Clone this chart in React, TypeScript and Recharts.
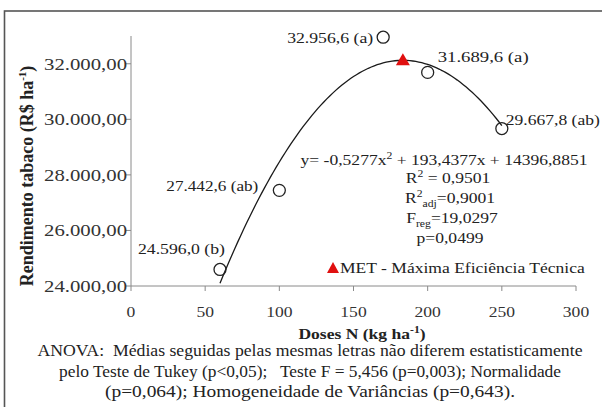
import React from "react";
import { ComposedChart, XAxis, YAxis, Line, Scatter } from "recharts";

// observed means per N dose
const doses = [60, 100, 170, 200, 250];
const rendimento = [24596.0, 27442.6, 32956.6, 31689.6, 29667.8];
const tukey = ["b", "ab", "a", "a", "ab"];

const xTicks = [0, 50, 100, 150, 200, 250, 300];
const yTicks = [24000, 26000, 28000, 30000, 32000];

// quadratic fit y = a2*x^2 + a1*x + a0
const a2 = -0.5277;
const a1 = 193.4377;
const a0 = 14396.8851;
const fitRange = [60, 250];

const SERIF = "'Liberation Serif', 'Times New Roman', serif";
const SX = 1.17;

const fmt = (v: number, dec: number) => {
  const [int, frac] = v.toFixed(dec).split(".");
  const grouped = int.replace(/\B(?=(\d{3})+(?!\d))/g, ".");
  return frac ? `${grouped},${frac}` : grouped;
};

const fitY = (x: number) => a2 * x * x + a1 * x + a0;

const curve: { x: number; y: number }[] = [];
for (let x = fitRange[0]; x <= fitRange[1]; x += 2) curve.push({ x, y: fitY(x) });

const metX = -a1 / (2 * a2);
const met = [{ x: metX, y: fitY(metX) }];

const points = doses.map((x, i) => ({
  x,
  y: rendimento[i],
  i,
  label: `${fmt(rendimento[i], 1)} (${tukey[i]})`,
}));

// where each value label sits relative to its marker
const labelPos = [
  { dx: 5, dy: -20, anchor: "end", w: 87 },
  { dx: -21, dy: -4, anchor: "end", w: 92 },
  { dx: -10, dy: 1, anchor: "end", w: 86 },
  { dx: 10, dy: -15, anchor: "start", w: 91 },
  { dx: 4, dy: -9, anchor: "start", w: 94 },
];

const YTick = (props: any) => {
  const { x, y, payload } = props;
  return (
    <text
      x={x + 3}
      y={y + 6}
      textAnchor="end"
      fontFamily={SERIF}
      fontSize={17}
      fill="#333"
      textLength={83}
      lengthAdjust="spacingAndGlyphs"
    >
      {fmt(payload.value, 2)}
    </text>
  );
};

const XTick = (props: any) => {
  const { x, y, payload } = props;
  return (
    <text
      transform={`translate(${x},${y + 24}) scale(${SX},1)`}
      textAnchor="middle"
      fontFamily={SERIF}
      fontSize={15}
      fill="#333"
    >
      {payload.value}
    </text>
  );
};

const PointShape = (props: any) => {
  const { cx, cy, payload } = props;
  const p = labelPos[payload.i];
  return (
    <g>
      <circle cx={cx} cy={cy} r={6} fill="none" stroke="#222" strokeWidth={1.3} />
      <text
        x={cx + p.dx}
        y={cy + p.dy + 5}
        textAnchor={p.anchor}
        fontFamily={SERIF}
        fontSize={15}
        fill="#222"
        textLength={p.w}
        lengthAdjust="spacingAndGlyphs"
      >
        {payload.label}
      </text>
    </g>
  );
};

const MetShape = (props: any) => {
  const { cx, cy } = props;
  return <polygon points={`${cx},${cy - 7} ${cx + 7},${cy + 5} ${cx - 7},${cy + 5}`} fill="#e01010" />;
};

const Stretch = ({ x, y, anchor = "middle", size = 15, bold = false, children }: any) => (
  <text
    transform={`translate(${x},${y}) scale(${SX},1)`}
    textAnchor={anchor}
    fontFamily={SERIF}
    fontSize={size}
    fontWeight={bold ? "bold" : "normal"}
    fill="#222"
    style={{ whiteSpace: "pre" }}
  >
    {children}
  </text>
);

const Note = ({ y, w, children }: any) => (
  <text
    x={310}
    y={y}
    textAnchor="middle"
    fontFamily={SERIF}
    fontSize={16}
    fill="#222"
    textLength={w}
    lengthAdjust="spacingAndGlyphs"
    style={{ whiteSpace: "pre" }}
  >
    {children}
  </text>
);

export default function App() {
  return (
    <div style={{ position: "relative", width: 602, height: 407, background: "#fff", overflow: "hidden" }}>
      <style>{`body{margin:0}`}</style>
      <ComposedChart
        width={602}
        height={407}
        data={curve}
        margin={{ top: 36, right: 26, bottom: 90, left: 0 }}
      >
        <XAxis
          dataKey="x"
          type="number"
          domain={[0, 300]}
          ticks={xTicks}
          interval={0}
          height={31}
          stroke="#8a8a8a"
          tickSize={5}
          tick={<XTick />}
        />
        <YAxis
          type="number"
          domain={[24000, 33000]}
          ticks={yTicks}
          interval={0}
          width={131}
          stroke="#8a8a8a"
          tickSize={5}
          tick={<YTick />}
        />
        <Line
          dataKey="y"
          type="linear"
          stroke="#1a1a1a"
          strokeWidth={1.3}
          dot={false}
          activeDot={false}
          isAnimationActive={false}
        />
        <Scatter data={points} dataKey="y" shape={<PointShape />} isAnimationActive={false} />
        <Scatter data={met} dataKey="y" shape={<MetShape />} isAnimationActive={false} />
      </ComposedChart>

      <svg width={602} height={407} style={{ position: "absolute", left: 0, top: 0, pointerEvents: "none" }}>
        <rect x={4.5} y={11} width={600} height={410} fill="none" stroke="#555" strokeWidth={1.6} />

        <text
          transform="translate(33,176) rotate(-90)"
          textAnchor="middle"
          fontFamily={SERIF}
          fontSize={18}
          fontWeight="bold"
          fill="#222"
        >
          Rendimento tabaco (R$ ha
          <tspan dy={-7} fontSize={11}>-1</tspan>
          <tspan dy={7}>)</tspan>
        </text>

        <Stretch x={362} y={339} bold>
          Doses N (kg ha<tspan dy={-6} fontSize={10}>-1</tspan>
          <tspan dy={6}>)</tspan>
        </Stretch>

        <Stretch x={444} y={165}>
          y= -0,5277x<tspan dy={-6} fontSize={10}>2</tspan>
          <tspan dy={6}> + 193,4377x + 14396,8851</tspan>
        </Stretch>
        <Stretch x={448} y={183}>
          R<tspan dy={-6} fontSize={10}>2</tspan>
          <tspan dy={6}> = 0,9501</tspan>
        </Stretch>
        <Stretch x={450} y={203}>
          R<tspan dy={-6} fontSize={10}>2</tspan>
          <tspan dy={10} fontSize={10}>adj</tspan>
          <tspan dy={-4}>=0,9001</tspan>
        </Stretch>
        <Stretch x={452} y={223}>
          F<tspan dy={4} fontSize={10}>reg</tspan>
          <tspan dy={-4}>=19,0297</tspan>
        </Stretch>
        <Stretch x={450} y={243}>p=0,0499</Stretch>

        <polygon points="333,262 339,273 327,273" fill="#e01010" />
        <Stretch x={340} y={273} anchor="start">MET - Máxima Eficiência Técnica</Stretch>

        <Note y={356} w={545}>ANOVA:  Médias seguidas pelas mesmas letras não diferem estatisticamente</Note>
        <Note y={377} w={502}>pelo Teste de Tukey (p{"<"}0,05);   Teste F = 5,456 (p=0,003); Normalidade</Note>
        <Note y={397} w={410}>(p=0,064); Homogeneidade de Variâncias (p=0,643).</Note>
      </svg>
    </div>
  );
}
